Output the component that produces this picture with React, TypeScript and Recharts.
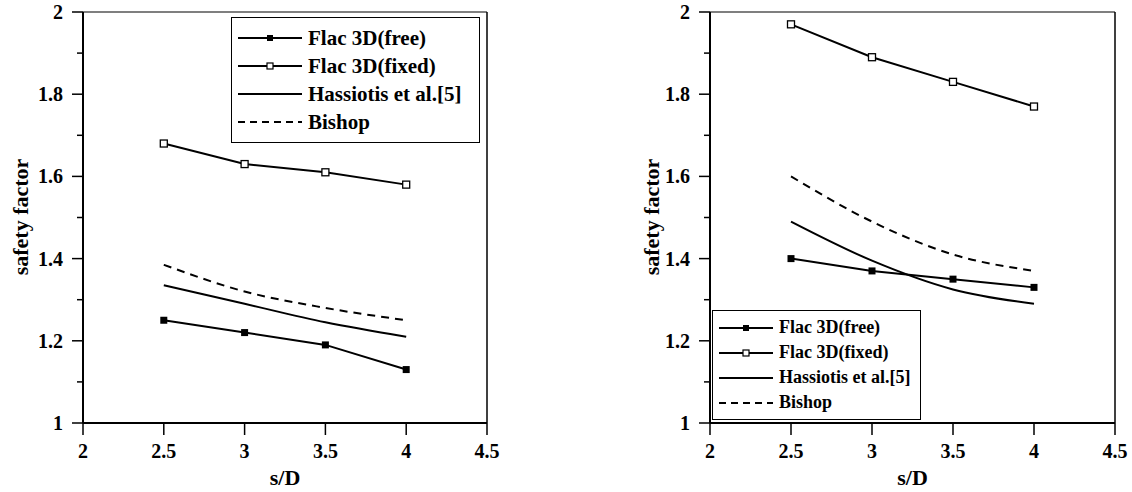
import { Legend, Line, LineChart, ReferenceLine, XAxis, YAxis } from "recharts";

const ratios = [2.5, 3, 3.5, 4];
const xTicks = [2, 2.5, 3, 3.5, 4, 4.5];
const yTicks = [1, 1.1, 1.2, 1.3, 1.4, 1.5, 1.6, 1.7, 1.8, 1.9, 2];
const yLabelled = [1, 1.2, 1.4, 1.6, 1.8, 2];
const seriesNames = ["Flac 3D(free)", "Flac 3D(fixed)", "Hassiotis et al.[5]", "Bishop"];

// left panel
const freeLeft = [1.25, 1.22, 1.19, 1.13];
const fixedLeft = [1.68, 1.63, 1.61, 1.58];
const hassiotisLeft = [1.335, 1.29, 1.245, 1.21];
const bishopLeft = [1.385, 1.32, 1.28, 1.25];

// right panel
const freeRight = [1.4, 1.37, 1.35, 1.33];
const fixedRight = [1.97, 1.89, 1.83, 1.77];
const hassiotisRight = [1.49, 1.395, 1.325, 1.29];
const bishopRight = [1.6, 1.49, 1.41, 1.37];

const font = '"Liberation Serif", "Times New Roman", serif';

const rows = (free: number[], fixed: number[], hass: number[], bishop: number[]) =>
  ratios.map((r, i) => ({ sd: r, free: free[i], fixed: fixed[i], hass: hass[i], bishop: bishop[i] }));

const leftData = rows(freeLeft, fixedLeft, hassiotisLeft, bishopLeft);
const rightData = rows(freeRight, fixedRight, hassiotisRight, bishopRight);

const filledSquare = (p: any) => (
  <rect key={`fs-${p.index}`} x={p.cx - 3.5} y={p.cy - 3.5} width={7} height={7} fill="#000" />
);
const openSquare = (p: any) => (
  <rect key={`os-${p.index}`} x={p.cx - 3.5} y={p.cy - 3.5} width={7} height={7} fill="#fff" stroke="#000" strokeWidth={1.3} />
);

const makeYTick = (axisX: number) => (props: any) => {
  const { y, payload } = props;
  const v = payload.value;
  const major = yLabelled.some((t) => Math.abs(t - v) < 1e-6);
  const len = major ? 11 : 6;
  return (
    <g key={`yt-${v}`}>
      <line x1={axisX - len} x2={axisX} y1={y} y2={y} stroke="#000" strokeWidth={1.5} />
      {major && (
        <text x={axisX - 20} y={y} textAnchor="end" dominantBaseline="central"
          fontFamily={font} fontWeight="bold" fontSize={20} fill="#000">
          {String(v)}
        </text>
      )}
    </g>
  );
};

const makeYTitle = (cx: number) => () => {
  const cy = 217;
  return (
    <text x={cx} y={cy} transform={`rotate(-90 ${cx} ${cy})`} textAnchor="middle" dominantBaseline="central"
      fontFamily={font} fontWeight="bold" fontSize={22} fill="#000">
      safety factor
    </text>
  );
};

type BoxProps = { fontSize: number; rowHeight: number; sample: number; pad: number };

const LegendBox = ({ fontSize, rowHeight, sample, pad }: BoxProps) => (
  <div style={{ border: "1px solid #000", background: "#fff", padding: `${pad}px 0 ${pad}px 6px`,
    fontFamily: font, fontWeight: "bold", fontSize, color: "#000", boxSizing: "border-box" }}>
    {seriesNames.map((name, i) => (
      <div key={name} style={{ display: "flex", alignItems: "center", height: rowHeight, whiteSpace: "nowrap" }}>
        <svg width={sample} height={12} style={{ flex: "none" }}>
          <line x1={0} x2={sample} y1={6} y2={6} stroke="#000" strokeWidth={2} strokeDasharray={i === 3 ? "7 5" : undefined} />
          {i === 0 && <rect x={sample / 2 - 3} y={3} width={6} height={6} fill="#000" />}
          {i === 1 && <rect x={sample / 2 - 3} y={3} width={6} height={6} fill="#fff" stroke="#000" strokeWidth={1.2} />}
        </svg>
        <span style={{ marginLeft: 6 }}>{name}</span>
      </div>
    ))}
  </div>
);

type PanelProps = {
  data: typeof leftData;
  marginLeft: number;
  marginRight: number;
  titleX: number;
  legend: { left: number; top: number; width: number } & BoxProps;
};

const Panel = ({ data, marginLeft, marginRight, titleX, legend }: PanelProps) => {
  const axisX = marginLeft + 83;
  const { left, top, width, ...box } = legend;
  return (
    <LineChart width={566} height={492} data={data}
      margin={{ top: 12, right: marginRight, bottom: 0, left: marginLeft }}>
      <XAxis dataKey="sd" type="number" domain={[2, 4.5]} ticks={xTicks} interval={0} height={69}
        axisLine={{ stroke: "#000", strokeWidth: 2 }} tickLine={{ stroke: "#000", strokeWidth: 1.5 }}
        tickSize={12} tickMargin={9}
        tick={{ fill: "#000", fontSize: 20, fontWeight: "bold", fontFamily: font }}
        label={{ value: "s/D", position: "insideBottom", offset: 7, fill: "#000", fontSize: 22, fontWeight: "bold", fontFamily: font }} />
      <YAxis type="number" domain={[1, 2]} ticks={yTicks} interval={0} width={83}
        axisLine={{ stroke: "#000", strokeWidth: 2 }} tickLine={false} tickSize={0} tickMargin={0}
        tick={makeYTick(axisX)} label={makeYTitle(titleX)} />
      <ReferenceLine y={2} stroke="#000" strokeWidth={1.2} />
      <ReferenceLine x={4.5} stroke="#000" strokeWidth={1.5} />
      <Line dataKey="hass" type="monotone" stroke="#000" strokeWidth={2} dot={false} activeDot={false} isAnimationActive={false} />
      <Line dataKey="bishop" type="monotone" stroke="#000" strokeWidth={2} strokeDasharray="8 6" dot={false} activeDot={false} isAnimationActive={false} />
      <Line dataKey="free" type="linear" stroke="#000" strokeWidth={2} dot={filledSquare} activeDot={false} isAnimationActive={false} />
      <Line dataKey="fixed" type="linear" stroke="#000" strokeWidth={2} dot={openSquare} activeDot={false} isAnimationActive={false} />
      <Legend layout="horizontal" verticalAlign="middle" align="center"
        wrapperStyle={{ left, top, width, height: "auto" }}
        content={() => <LegendBox {...box} />} />
    </LineChart>
  );
};

export default function App() {
  return (
    <div style={{ position: "absolute", left: 0, top: 0, width: 1132, height: 492, background: "#fff", display: "flex" }}>
      <Panel data={leftData} marginLeft={0} marginRight={79} titleX={20}
        legend={{ left: 231, top: 17, width: 249, fontSize: 21, rowHeight: 28, sample: 64, pad: 6 }} />
      <Panel data={rightData} marginLeft={61} marginRight={17} titleX={85}
        legend={{ left: 146, top: 310, width: 209, fontSize: 18, rowHeight: 25, sample: 54, pad: 4 }} />
    </div>
  );
}
